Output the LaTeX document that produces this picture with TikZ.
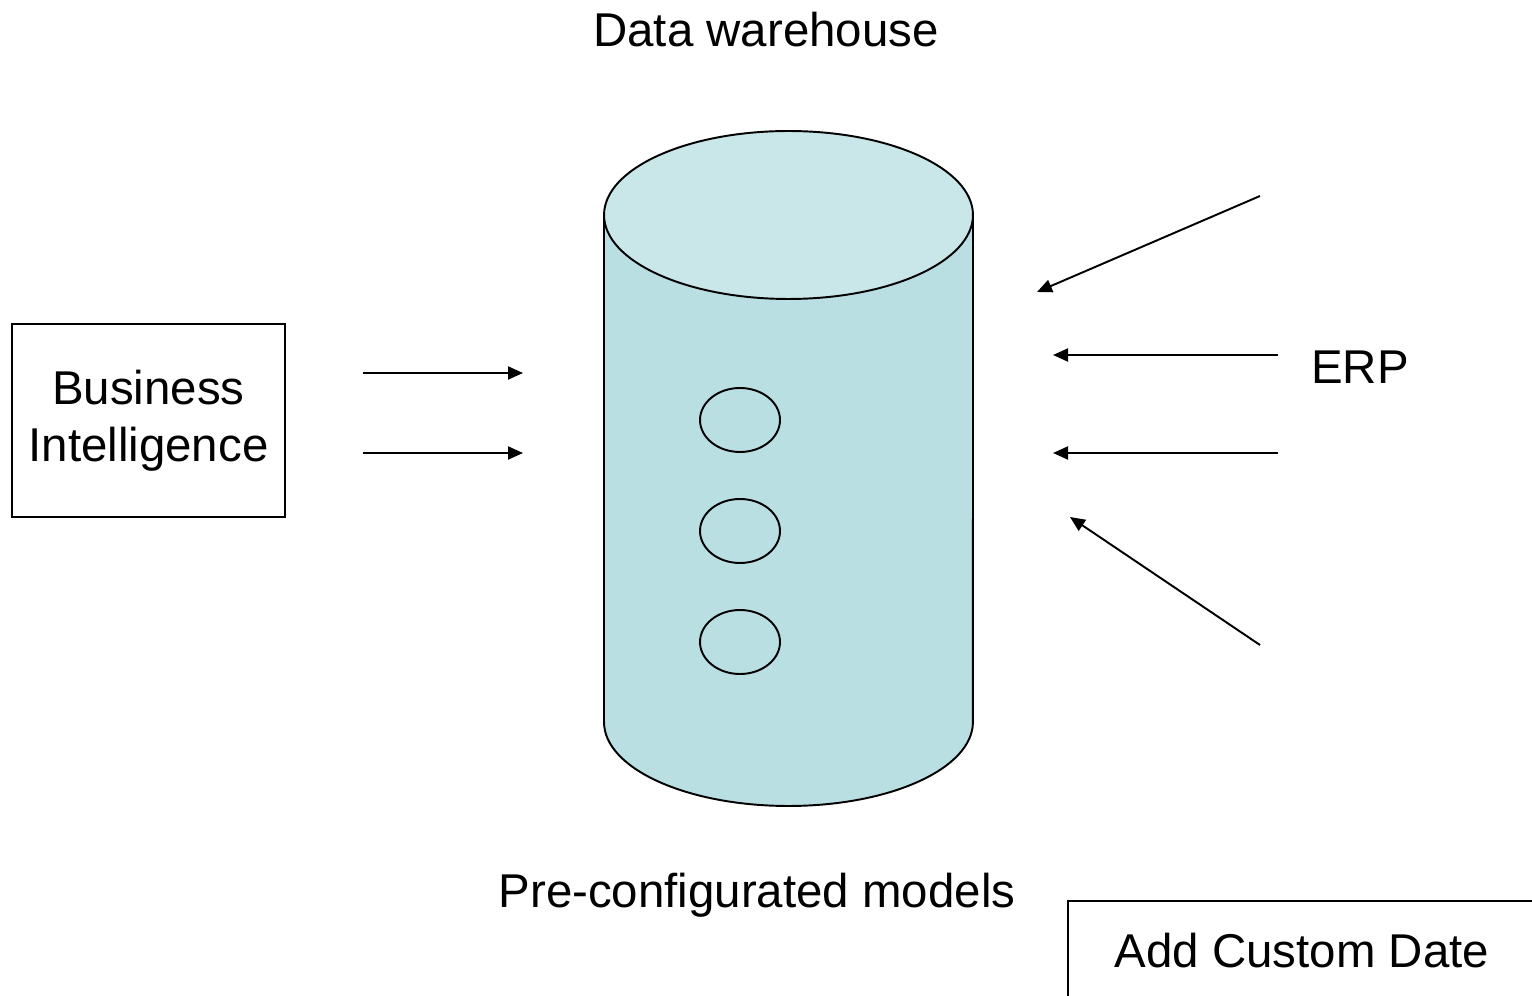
\documentclass[tikz,border=0pt]{standalone}
\usepackage{fontspec}
\setmainfont{Liberation Sans}
\usetikzlibrary{arrows.meta,shapes.geometric}
\definecolor{tankbody}{HTML}{B9DFE3}
\definecolor{tanktop}{HTML}{C9E6E9}

\begin{document}
\begin{tikzpicture}[x=0.02cm,y=0.02cm,
  bigtext/.style={font=\fontsize{27}{32.4}\selectfont, align=center},
  feed/.style={line width=1.1pt, -{Triangle[length=0.3cm,width=0.26cm]}},
  model/.style={draw, line width=1.1pt, ellipse, minimum width=1.6cm, minimum height=1.28cm, inner sep=0pt}]
\useasboundingbox (0,0) rectangle (1532,995);

\coordinate (B1) at ( 363,622);
\coordinate (B2) at ( 523,622);
\coordinate (B3) at ( 363,542);
\coordinate (B4) at ( 523,542);
\coordinate (E1) at (1260,799);
\coordinate (E2) at (1037,703);
\coordinate (E3) at (1278,640);
\coordinate (E4) at (1053,640);
\coordinate (E5) at (1278,542);
\coordinate (E6) at (1053,542);
\coordinate (E7) at (1260,350);
\coordinate (E8) at (1070,478);

\draw[line width=1.1pt, fill=tankbody] (604,780) -- (604,273) arc[start angle=180, end angle=360, x radius=3.69cm, y radius=1.68cm] -- (973,780);
\draw[line width=1.1pt, fill=tanktop]  (788.5,780) ellipse [x radius=3.69cm, y radius=1.68cm];

\node[model] (M1) at (740,575) {};
\node[model] (M2) at (740,464) {};
\node[model] (M3) at (740,353) {};

\node[bigtext] (DW)  at ( 766,965) {Data warehouse};
\node[bigtext] (PCM) at ( 757,100) {Pre-configurated models};
\node[bigtext] (ERP) at (1360,628) {ERP};
\node[draw, line width=0.8pt, bigtext, minimum width=5.46cm, minimum height=3.86cm] (BI)  at (148.5,574.5) {Business\\Intelligence};
\node[draw, line width=0.8pt, bigtext, minimum width=9.36cm, minimum height=2cm]    (ACD) at (1302,44)     {Add Custom Date};

\path[feed] (B1) edge (B2);
\path[feed] (B3) edge (B4);
\path[feed] (E1) edge (E2);
\path[feed] (E3) edge (E4);
\path[feed] (E5) edge (E6);
\path[feed] (E7) edge (E8);

\end{tikzpicture}
\end{document}
